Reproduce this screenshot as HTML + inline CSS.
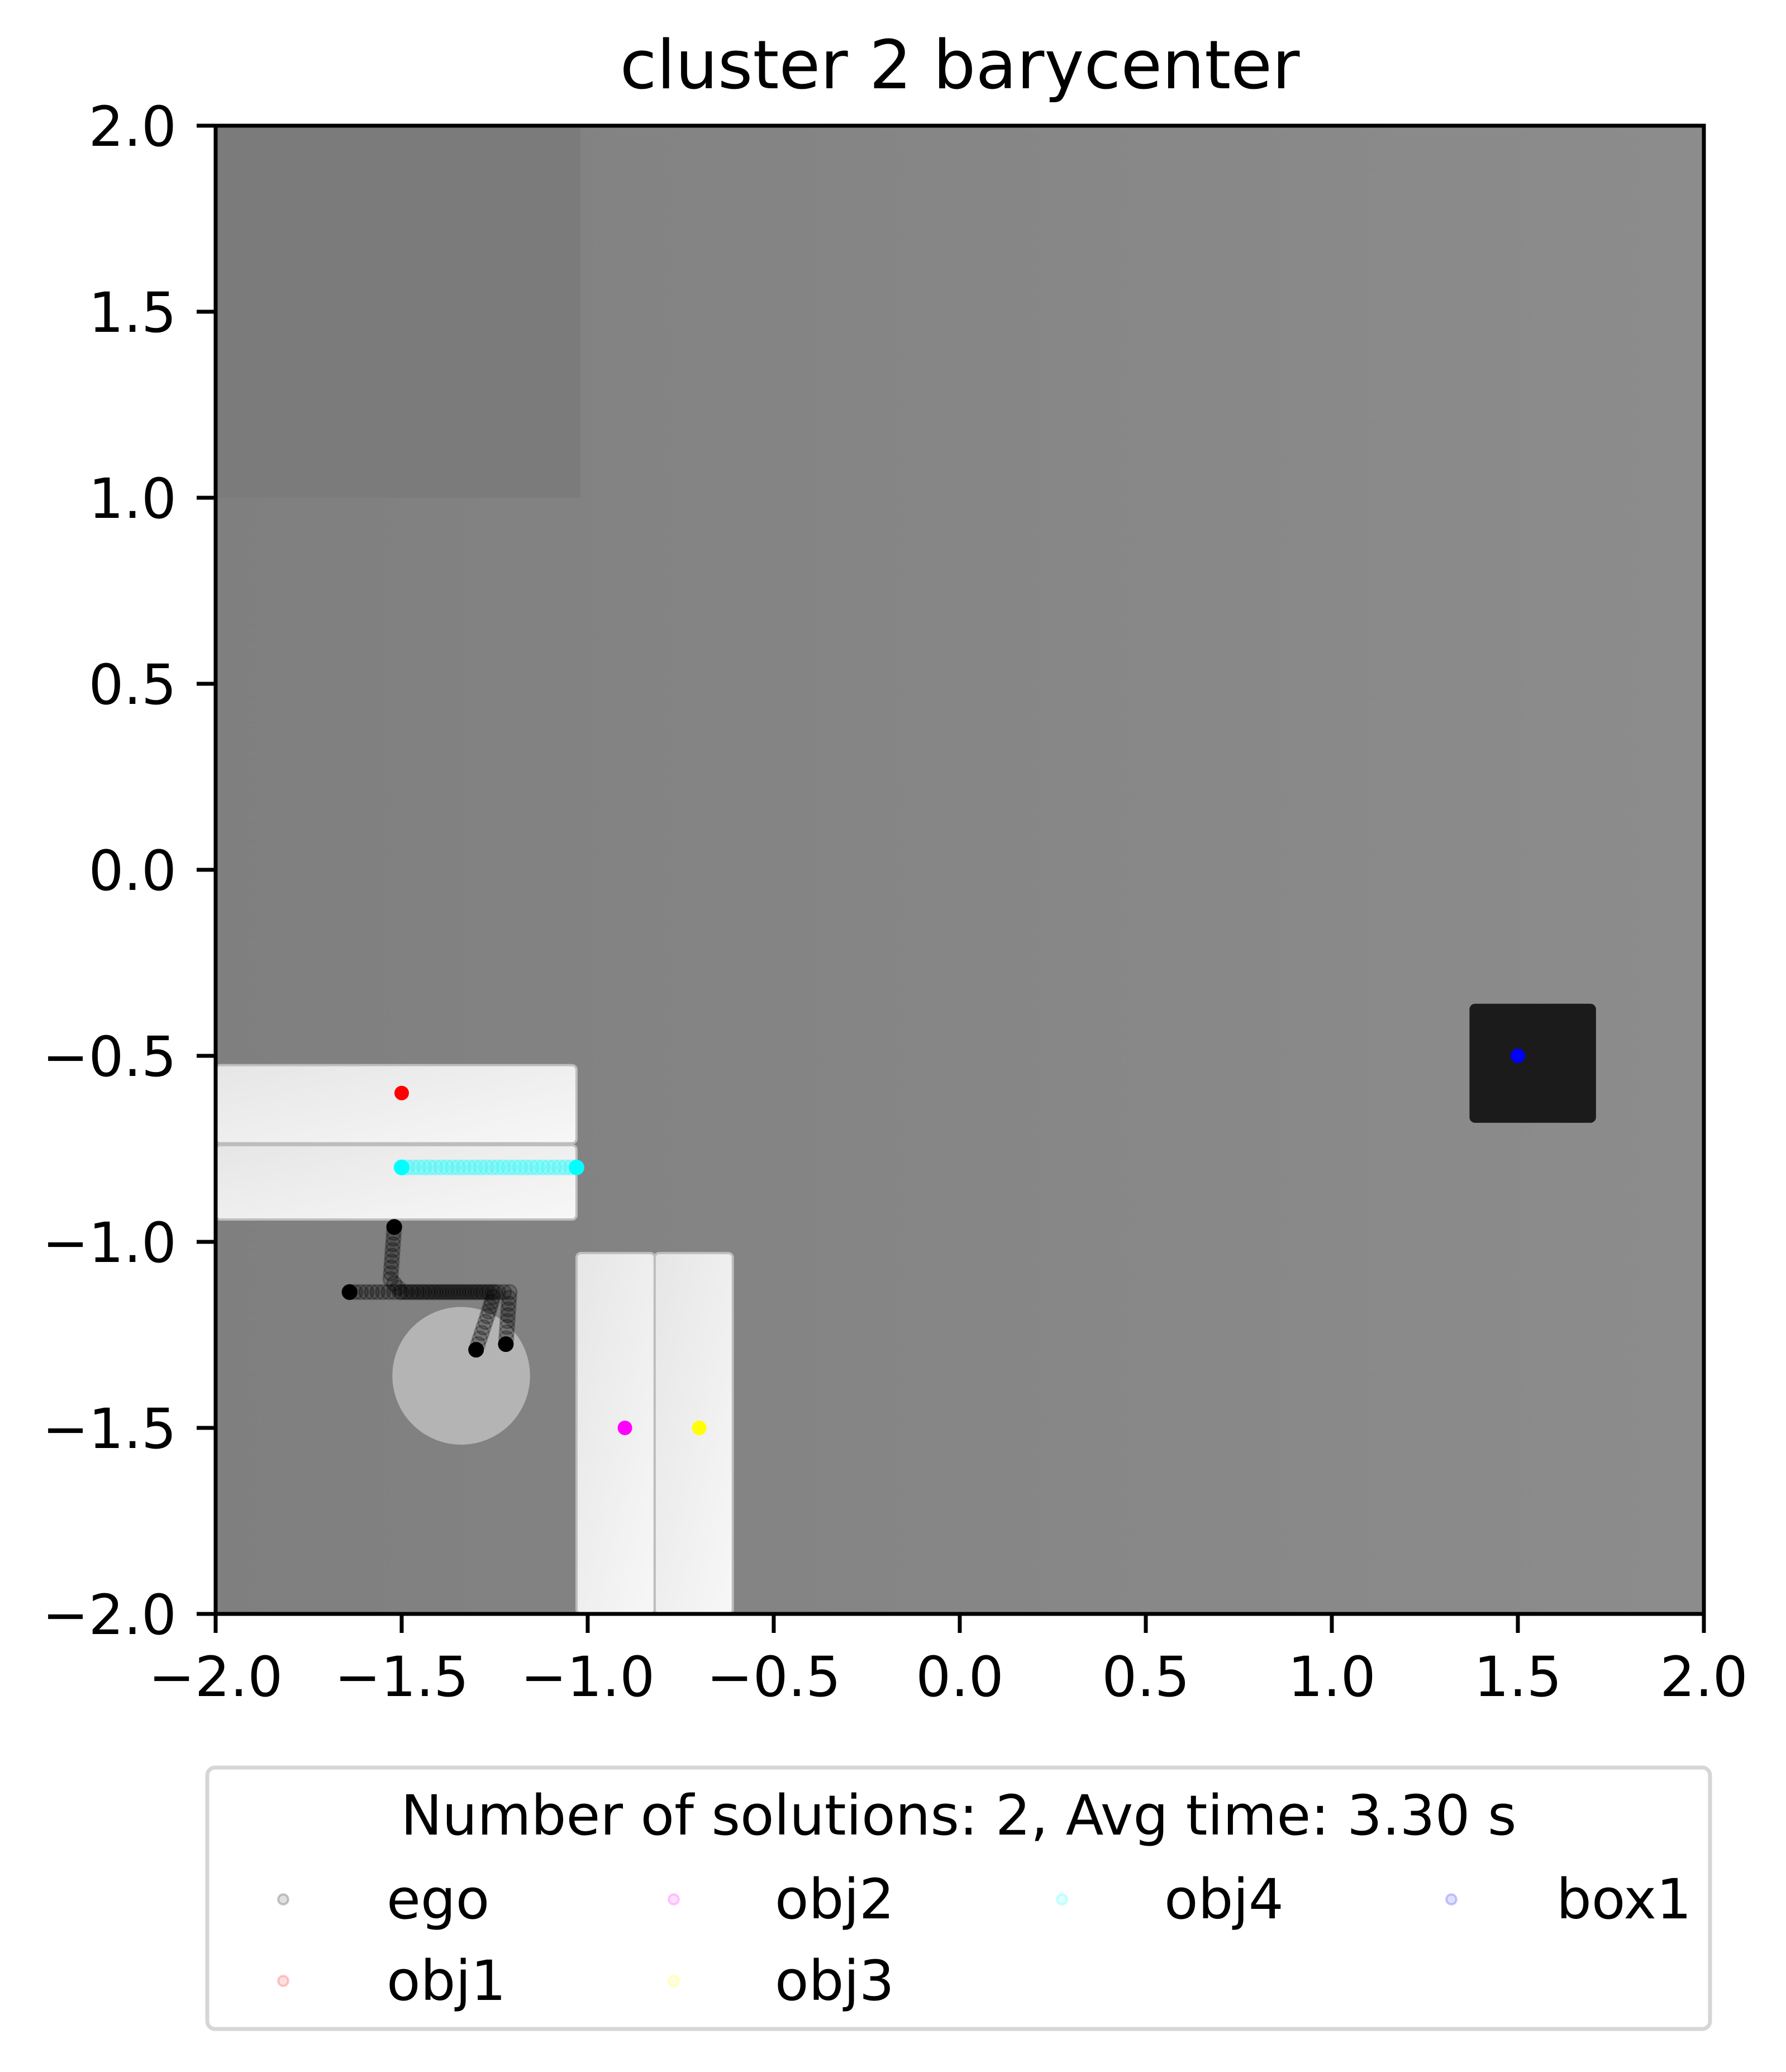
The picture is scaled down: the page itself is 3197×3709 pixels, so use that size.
<!DOCTYPE html>
<html><head><meta charset="utf-8"><style>
html,body{margin:0;padding:0;background:#fff;}
svg text{font-family:"DejaVu Sans","Liberation Sans",sans-serif;}
</style></head><body>
<svg id="fig" xmlns="http://www.w3.org/2000/svg" width="3197" height="3704" viewBox="0 0 3197 3704">
<defs>
<linearGradient id="bg" x1="0" y1="0" x2="1" y2="0">
<stop offset="0" stop-color="#7f7f7f"/><stop offset="0.5" stop-color="#868686"/><stop offset="1" stop-color="#8c8c8c"/>
</linearGradient>
<linearGradient id="slab" x1="0" y1="0" x2="1" y2="1">
<stop offset="0" stop-color="#e6e6e6"/><stop offset="1" stop-color="#f7f7f7"/>
</linearGradient>
<clipPath id="axclip"><rect x="386" y="225" width="2664" height="2664"/></clipPath>
</defs>
<text x="1718" y="158" font-size="120" text-anchor="middle">cluster 2 barycenter</text>
<g id="plot" clip-path="url(#axclip)"></g>
<g id="axes"></g>
<g id="legend"></g>
</svg>
<script>
// ---- data ----
const xTicks = [-2.0,-1.5,-1.0,-0.5,0.0,0.5,1.0,1.5,2.0];
const yTicks = [2.0,1.5,1.0,0.5,0.0,-0.5,-1.0,-1.5,-2.0];
const tickLabels = ["\u22122.0","\u22121.5","\u22121.0","\u22120.5","0.0","0.5","1.0","1.5","2.0"];
const slabH1 = [-2.0, -1.03, -0.525, -0.735];
const slabH2 = [-2.0, -1.03, -0.74, -0.94];
const slabV1 = [-1.03, -0.82, -1.03, -2.0];
const slabV2 = [-0.82, -0.61, -1.03, -2.0];
const boxRect = [1.37, 1.71, -0.36, -0.68];
const disc = [-1.34, -1.36, 0.185];
const darkPatch = [-2.0, -1.02, 2.0, 1.0];
const objNames = ["obj1","obj2","obj3","box1"];
const objX = [-1.5, -0.9, -0.7, 1.5];
const objY = [-0.6, -1.5, -1.5, -0.5];
const objColors = ["#ff0000","#ff00ff","#ffff00","#0000ff"];
const obj4X = [-1.5, -1.03];
const obj4Y = [-0.8, -0.8];
const ego1X = [-1.52, -1.53, -1.50, -1.21, -1.22];
const ego1Y = [-0.96, -1.10, -1.135, -1.135, -1.275];
const ego2X = [-1.64, -1.25, -1.27, -1.30];
const ego2Y = [-1.135, -1.135, -1.20, -1.29];
const legNames = ["ego","obj2","obj4","box1","obj1","obj3"];
const legColors = ["#000000","#ff00ff","#00ffff","#0000ff","#ff0000","#ffff00"];

const X0=386, X1=3050, Y0=225, Y1=2889;
const sx = v => X0 + (v+2)/4*(X1-X0);
const sy = v => Y0 + (2-v)/4*(Y1-Y0);
const NS="http://www.w3.org/2000/svg";
function mk(tag, attrs, parent){const e=document.createElementNS(NS,tag);for(const k in attrs)e.setAttribute(k,attrs[k]);parent.appendChild(e);return e;}

const plot=document.getElementById('plot');
let e;
e=mk('rect',{x:X0,y:Y0,width:X1-X0,height:Y1-Y0,fill:'url(#bg)'},plot);


e=mk('rect',{x:sx(darkPatch[0]),y:sy(darkPatch[2]),width:sx(darkPatch[1])-sx(darkPatch[0]),height:sy(darkPatch[3])-sy(darkPatch[2]),fill:'#7b7b7b'},plot);



function slab(s,name){
  const r=mk('rect',{x:sx(s[0]),y:sy(s[2]),width:sx(s[1])-sx(s[0]),height:sy(s[3])-sy(s[2]),rx:8,fill:'url(#slab)',stroke:'#bdbdbd','stroke-width':4},plot);
  
  
}
slab(slabH1,'obj1-slab');slab(slabH2,'obj4-slab');slab(slabV1,'obj2-slab');slab(slabV2,'obj3-slab');
e=mk('rect',{x:sx(boxRect[0]),y:sy(boxRect[2]),width:sx(boxRect[1])-sx(boxRect[0]),height:sy(boxRect[3])-sy(boxRect[2]),rx:10,fill:'#1b1b1b'},plot);


e=mk('circle',{cx:sx(disc[0]),cy:sy(disc[1]),r:disc[2]*666,fill:'#b4b4b4'},plot);



function traj(xs,ys,color,name,step,op){
  const g=mk('g',{},plot);
  
  
  for(let i=0;i<xs.length-1;i++){
    const ax=sx(xs[i]),ay=sy(ys[i]),bx=sx(xs[i+1]),by=sy(ys[i+1]);
    const n=Math.max(1,Math.round(Math.hypot(bx-ax,by-ay)/step));
    for(let k=0;k<n;k++){const t=k/n;
      mk('circle',{cx:ax+(bx-ax)*t,cy:ay+(by-ay)*t,r:13,fill:color,'fill-opacity':op,stroke:color,'stroke-opacity':op+0.05,'stroke-width':3},g);}
  }
  const s=mk('circle',{cx:sx(xs[0]),cy:sy(ys[0]),r:14,fill:color},g);
  
  
  const t=mk('circle',{cx:sx(xs[xs.length-1]),cy:sy(ys[ys.length-1]),r:14,fill:color},g);
  
  
}
traj(obj4X,obj4Y,'#00ffff','obj4-trajectory',10,0.2);
traj(ego1X,ego1Y,'#000000','ego-trajectory-1',10,0.2);
traj(ego2X,ego2Y,'#000000','ego-trajectory-2',10,0.2);
for(let i=0;i<objX.length;i++){
  const c=mk('circle',{cx:sx(objX[i]),cy:sy(objY[i]),r:13,fill:objColors[i]},plot);
  
  
}

const ax=document.getElementById('axes');
e=mk('rect',{x:X0,y:Y0,width:X1-X0,height:Y1-Y0,fill:'none',stroke:'#000','stroke-width':7},ax);


xTicks.forEach((v,i)=>{
  const l=mk('line',{x1:sx(v),x2:sx(v),y1:Y1,y2:Y1+34,stroke:'#000','stroke-width':7},ax);
  
  
  const t=mk('text',{x:sx(v),y:3036,'font-size':99,'text-anchor':'middle'},ax);
  t.textContent=tickLabels[i];
  
  
});
yTicks.forEach((v,i)=>{
  const l=mk('line',{x1:X0-34,x2:X0,y1:sy(v),y2:sy(v),stroke:'#000','stroke-width':7},ax);
  
  
  const t=mk('text',{x:X0-70,y:sy(v)+36,'font-size':99,'text-anchor':'end'},ax);
  t.textContent=tickLabels[tickLabels.length-1-i];
  
  
});

const lg=document.getElementById('legend');
e=mk('rect',{x:371,y:3164,width:2690,height:468,rx:14,fill:'#fff',stroke:'#d6d6d6','stroke-width':7},lg);


e=mk('text',{x:1716,y:3284,'font-size':99,'text-anchor':'middle'},lg);
e.textContent='Number of solutions: 2, Avg time: 3.30 s';


const colMX=[507,1206,1901,2598], colTX=[692,1387,2084,2786], rowY=[3400,3546];
legNames.forEach((n,i)=>{
  const c=i%4,r=Math.floor(i/4);
  const g=mk('g',{},lg);
  
  
  mk('circle',{cx:colMX[c],cy:rowY[r],r:9,fill:legColors[i],'fill-opacity':0.12,stroke:legColors[i],'stroke-opacity':0.2,'stroke-width':4},g);
  const t=mk('text',{x:colTX[c],y:rowY[r]+34,'font-size':99},g);
  t.textContent=n;
});
</script>
</body></html>
